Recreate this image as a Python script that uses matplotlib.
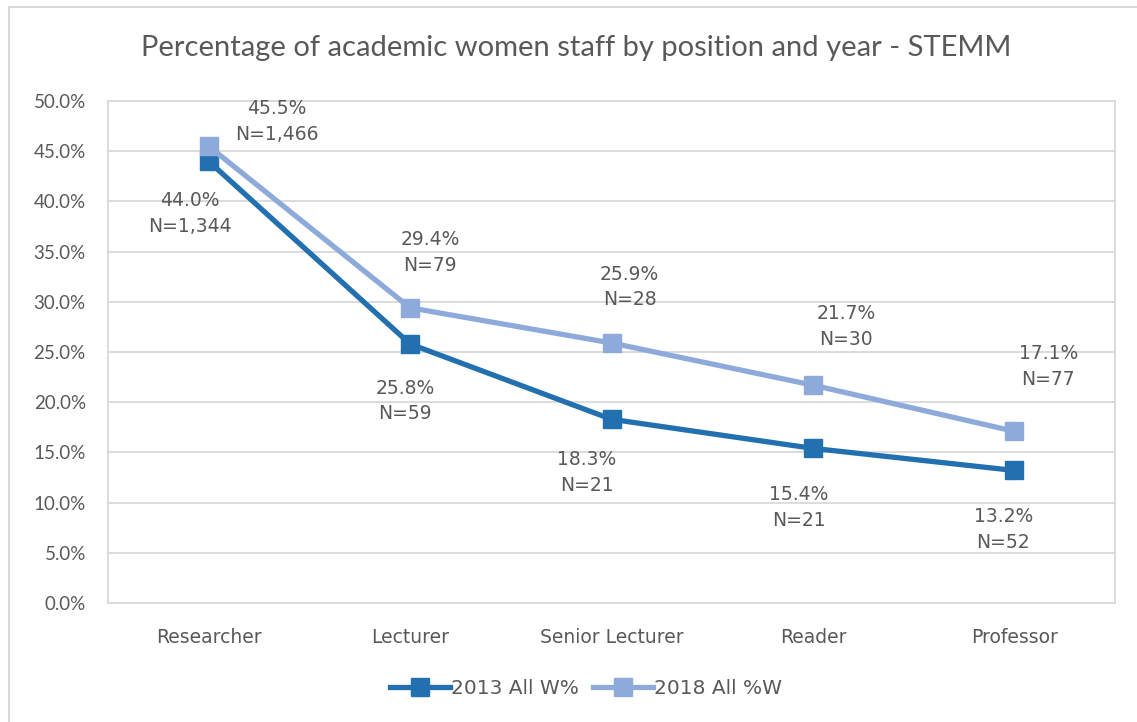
import matplotlib.pyplot as plt
from matplotlib.lines import Line2D
from matplotlib.ticker import PercentFormatter

# Data
positions = ['Researcher', 'Lecturer', 'Senior Lecturer', 'Reader', 'Professor']
pct_2013 = [44.0, 25.8, 18.3, 15.4, 13.2]
n_2013 = ['1,344', '59', '21', '21', '52']
pct_2018 = [45.5, 29.4, 25.9, 21.7, 17.1]
n_2018 = ['1,466', '79', '28', '30', '77']

# Label offsets in pixels (label centre relative to point)
off_2013 = [(-19, -52), (-5, -57), (-25, -53), (-14, -59), (-11, -59)]
off_2018 = [(68, 25), (20, 55), (18, 56), (33, 59), (34, 65)]

plt.rcParams['font.family'] = ['DejaVu Sans']
text_col = '#595959'
grid_col = '#D9D9D9'
c2013 = '#2270B0'
c2018 = '#8EAADB'

fig = plt.figure(figsize=(11.37, 7.22), dpi=100)
W, H = 1137, 722
ax = fig.add_axes([108 / W, 1 - 603 / H, (1115 - 108) / W, (603 - 101) / H])

x = range(len(positions))
ax.plot(x, pct_2013, color=c2013, lw=3.8, marker='s', markersize=12.5, label='2013 All W%', zorder=3)
ax.plot(x, pct_2018, color=c2018, lw=3.8, marker='s', markersize=12.5, label='2018 All %W', zorder=3)

for i in x:
    ax.annotate(f'{pct_2013[i]:.1f}%\nN={n_2013[i]}', (i, pct_2013[i]), xytext=off_2013[i],
                textcoords='offset pixels', ha='center', va='center', fontsize=13.5,
                color=text_col, linespacing=1.45)
    ax.annotate(f'{pct_2018[i]:.1f}%\nN={n_2018[i]}', (i, pct_2018[i]), xytext=off_2018[i],
                textcoords='offset pixels', ha='center', va='center', fontsize=13.5,
                color=text_col, linespacing=1.45)

ax.set_xlim(-0.5, len(positions) - 0.5)
ax.set_ylim(0, 50)
ax.set_yticks(range(0, 51, 5))
ax.yaxis.set_major_formatter(PercentFormatter(decimals=1))
ax.set_xticks(list(x))
ax.set_xticklabels(positions)
ax.tick_params(length=0, labelcolor=text_col)
ax.tick_params(axis='x', pad=18, labelsize=13.5)
ax.tick_params(axis='y', pad=16, labelsize=13.5)
for t in ax.get_yticklabels():
    t.set_family(['Lato', 'DejaVu Sans'])
ax.grid(axis='y', color=grid_col, lw=1.3)
ax.set_axisbelow(True)
for s in ax.spines.values():
    s.set_color(grid_col)
    s.set_linewidth(1.3)

fig.text(576 / W, 1 - 48 / H, 'Percentage of academic women staff by position and year - STEMM',
         ha='center', va='center', fontsize=21, color=text_col, family=['Lato', 'DejaVu Sans'])

fig.legend(loc='center', bbox_to_anchor=(586 / W, 1 - 689 / H), ncol=2, frameon=False,
           fontsize=14.5, labelcolor=text_col, handlelength=3.0, handletextpad=0.05,
           columnspacing=0.7, markerscale=1.0)

# outer chart border (top and left edges visible)
fig.add_artist(Line2D([9 / W, 1.0], [1 - 7 / H, 1 - 7 / H], color=grid_col, lw=1.5))
fig.add_artist(Line2D([9 / W, 9 / W], [0, 1 - 7 / H], color=grid_col, lw=1.5))

fig.savefig('out.png', dpi=100)
